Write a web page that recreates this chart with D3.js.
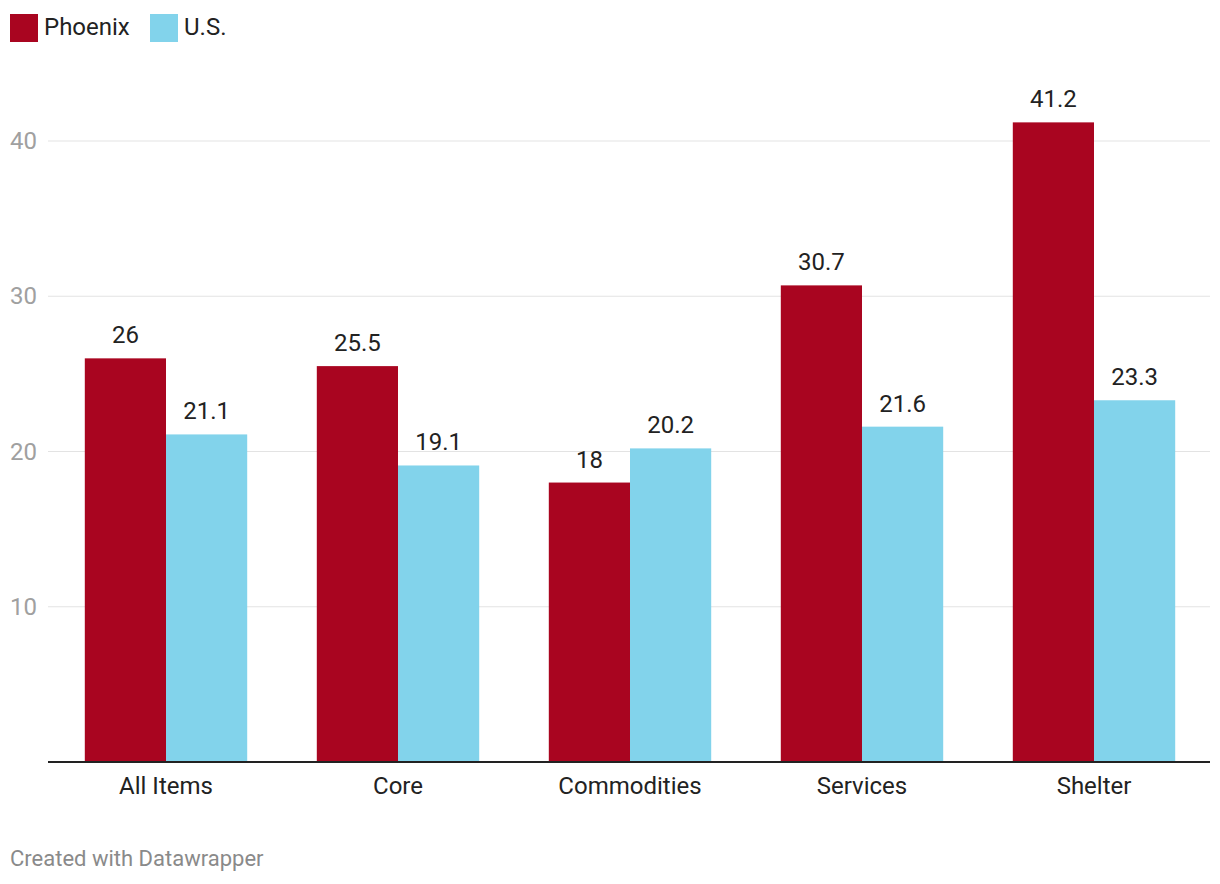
<!DOCTYPE html>
<html><head><meta charset="utf-8">
<script src="https://cdn.jsdelivr.net/npm/d3@7"></script>
<style>body{margin:0;background:#fff;font-family:Roboto,sans-serif;}</style>
</head><body>
<svg id="c" width="1220" height="884"></svg>
<script>
const categories = ["All Items","Core","Commodities","Services","Shelter"];
const seriesNames = ["Phoenix","U.S."];
const phoenix = [26,25.5,18,30.7,41.2];
const us = [21.1,19.1,20.2,21.6,23.3];
const yTicks = [10,20,30,40];
const colors = ["#a90520","#82d3eb"];

const svg = d3.select("#c");
const x = d3.scaleBand().domain(categories).range([50,1210]).paddingInner(0.3).paddingOuter(0.15);
const xs = d3.scaleBand().domain(seriesNames).range([0,x.bandwidth()]);
const y = d3.scaleLinear().domain([0,40]).range([762,141]);

// gridlines
svg.append("g").selectAll("line").data(yTicks).join("line")
  .attr("x1",48).attr("x2",1210).attr("y1",d=>y(d)).attr("y2",d=>y(d))
  .attr("stroke","#e3e3e3").attr("stroke-width",1);
svg.append("g").selectAll("text").data(yTicks).join("text")
  .attr("x",10).attr("y",d=>y(d)+8).text(d=>d)
  .attr("font-size",24).attr("fill","#a0a0a0");

const data = categories.map((c,i)=>({c, vals:[phoenix[i],us[i]]}));
const g = svg.append("g").selectAll("g").data(data).join("g")
  .attr("transform",d=>`translate(${x(d.c)},0)`);
g.selectAll("rect").data(d=>d.vals.map((v,j)=>({v,s:seriesNames[j],j}))).join("rect")
  .attr("x",d=>xs(d.s)).attr("width",xs.bandwidth())
  .attr("y",d=>y(d.v)).attr("height",d=>y(0)-y(d.v))
  .attr("fill",d=>colors[d.j]);
g.selectAll("text.v").data(d=>d.vals.map((v,j)=>({v,s:seriesNames[j],j}))).join("text")
  .attr("class","v")
  .attr("x",d=>xs(d.s)+xs.bandwidth()/2).attr("y",d=>y(d.v)-15)
  .attr("text-anchor","middle").attr("font-size",24).attr("fill","#222")
  .text(d=>d.v);

// baseline
svg.append("line").attr("x1",48).attr("x2",1210).attr("y1",y(0)).attr("y2",y(0))
  .attr("stroke","#222").attr("stroke-width",2);
svg.append("g").selectAll("text").data(categories).join("text")
  .attr("x",d=>x(d)+x.bandwidth()/2).attr("y",794)
  .attr("text-anchor","middle").attr("font-size",24).attr("fill","#222").text(d=>d);

// legend
const lg = svg.append("g");
const lx = [10,150];
seriesNames.forEach((s,i)=>{
  lg.append("rect").attr("x",lx[i]).attr("y",14).attr("width",28).attr("height",28).attr("fill",colors[i]);
  lg.append("text").attr("x",lx[i]+34).attr("y",35).attr("font-size",24).attr("fill","#222").text(s);
});

svg.append("text").attr("x",10).attr("y",866).attr("font-size",22).attr("fill","#8a8a8a").text("Created with Datawrapper");
</script>
</body></html>
